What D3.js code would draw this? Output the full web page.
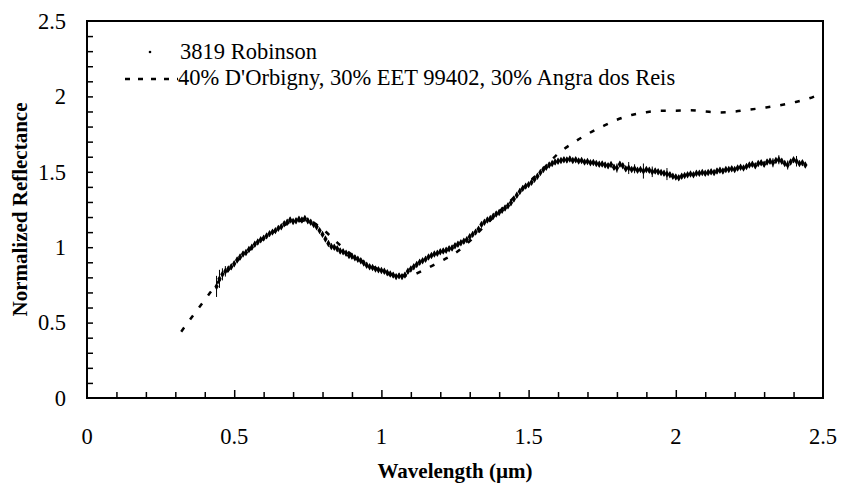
<!DOCTYPE html>
<html>
<head>
<meta charset="utf-8">
<script src="https://cdn.jsdelivr.net/npm/d3@7"></script>
<style>
  body { margin: 0; background: #fff; }
  svg { display: block; }
  text { font-family: "Liberation Serif", "Times New Roman", serif; fill: #000; }
</style>
</head>
<body>
<svg id="chart" width="842" height="485"></svg>
<script>
// 3819 Robinson reflectance, one value every 0.01 um from 0.44 to 2.44
const robinsonStart = 0.44
const robinsonStep = 0.01
const robinsonValues = [
  0.74, 0.79, 0.82, 0.84, 0.855, 0.87, 0.89, 0.915, 0.935, 0.955,
  0.965, 0.985, 1.00, 1.02, 1.035, 1.05, 1.06, 1.075, 1.09, 1.10,
  1.11, 1.125, 1.135, 1.155, 1.165, 1.18, 1.17, 1.175, 1.185, 1.18,
  1.19, 1.175, 1.165, 1.15, 1.135, 1.11, 1.085, 1.055, 1.025, 1.005,
  1.00, 0.99, 0.975, 0.97, 0.96, 0.945, 0.94, 0.93, 0.92, 0.91,
  0.895, 0.88, 0.87, 0.865, 0.855, 0.85, 0.845, 0.84, 0.83, 0.822,
  0.815, 0.805, 0.81, 0.805, 0.815, 0.84, 0.855, 0.87, 0.885, 0.90,
  0.91, 0.92, 0.935, 0.945, 0.955, 0.96, 0.97, 0.975, 0.98, 0.99,
  0.995, 1.01, 1.02, 1.03, 1.04, 1.05, 1.07, 1.085, 1.10, 1.12,
  1.15, 1.165, 1.18, 1.19, 1.205, 1.22, 1.23, 1.245, 1.26, 1.275,
  1.295, 1.32, 1.345, 1.37, 1.39, 1.405, 1.415, 1.43, 1.45, 1.47,
  1.495, 1.515, 1.53, 1.545, 1.555, 1.565, 1.57, 1.575, 1.58, 1.578,
  1.585, 1.575, 1.58, 1.572, 1.575, 1.565, 1.568, 1.56, 1.562, 1.555,
  1.55, 1.552, 1.545, 1.54, 1.548, 1.53, 1.525, 1.55, 1.54, 1.52,
  1.525, 1.515, 1.52, 1.51, 1.515, 1.505, 1.515, 1.51, 1.50, 1.505,
  1.50, 1.495, 1.49, 1.485, 1.48, 1.47, 1.465, 1.46, 1.47, 1.475,
  1.48, 1.485, 1.48, 1.49, 1.49, 1.495, 1.49, 1.495, 1.50, 1.495,
  1.505, 1.51, 1.505, 1.515, 1.515, 1.52, 1.515, 1.525, 1.53, 1.525,
  1.535, 1.545, 1.55, 1.54, 1.555, 1.56, 1.55, 1.565, 1.57, 1.56,
  1.575, 1.58, 1.57, 1.555, 1.545, 1.565, 1.58, 1.57, 1.555, 1.56,
  1.545
]
// larger error bars seen in the picture [wavelength, half length]
const robinsonBigErrors = [
  [0.44, 0.07], [0.45, 0.06], [0.46, 0.04], [0.47, 0.035],
  [1.80, 0.03], [1.84, 0.04], [1.86, 0.03], [1.89, 0.05], [1.92, 0.035],
  [1.97, 0.04], [2.33, 0.03], [2.35, 0.03], [2.38, 0.03], [2.41, 0.035]
]
const robinsonSmallError = 0.018

// model mixture
const modelWavelengths = [
  0.32, 0.35, 0.40, 0.45, 0.50, 0.55, 0.60, 0.65, 0.70, 0.75,
  0.80, 0.85, 0.90, 0.95, 1.00, 1.05, 1.10, 1.15, 1.20, 1.25,
  1.30, 1.35, 1.40, 1.45, 1.50, 1.55, 1.60, 1.65, 1.70, 1.75,
  1.80, 1.85, 1.90, 1.95, 2.00, 2.05, 2.10, 2.15, 2.20, 2.25,
  2.30, 2.35, 2.40, 2.45, 2.49
]
const modelValues = [
  0.44, 0.52, 0.65, 0.78, 0.89, 0.98, 1.06, 1.12, 1.17, 1.175,
  1.12, 1.03, 0.95, 0.89, 0.845, 0.81, 0.815, 0.855, 0.905, 0.96,
  1.04, 1.14, 1.235, 1.33, 1.43, 1.52, 1.62, 1.69, 1.75, 1.80,
  1.845, 1.877, 1.895, 1.905, 1.905, 1.908, 1.90, 1.894, 1.90, 1.912,
  1.925, 1.94, 1.96, 1.985, 2.015
]

const xTicks = [0, 0.5, 1, 1.5, 2, 2.5]
const yTicks = [0, 0.5, 1, 1.5, 2, 2.5]
const legendLabels = ['3819 Robinson', "40% D'Orbigny, 30% EET 99402, 30% Angra dos Reis"]

const box = { left: 87, right: 823, top: 21, bottom: 398 }
const fontSize = 22.5

const svg = d3.select('#chart')

const x = d3.scaleLinear().domain([0, 2.5]).range([box.left, box.right])
const y = d3.scaleLinear().domain([0, 2.5]).range([box.bottom, box.top])

const robinson = robinsonValues.map((v, i) => {
  const w = +(robinsonStart + i * robinsonStep).toFixed(2)
  const big = robinsonBigErrors.find(e => Math.abs(e[0] - w) < 1e-6)
  return { w: w, r: v, e: big ? big[1] : robinsonSmallError }
})
const model = modelWavelengths.map((w, i) => ({ w: w, r: modelValues[i] }))

// minor ticks every 0.1, pointing inward
const minor = d3.range(1, 25).map(i => i / 10)

svg.append('g').attr('transform', `translate(0,${box.bottom})`)
  .call(d3.axisBottom(x).tickValues(minor).tickSize(-6).tickFormat(''))
  .call(g => g.select('.domain').remove())
  .call(g => g.selectAll('line').attr('stroke', '#000').attr('stroke-width', 1.5)
    .attr('y2', d => Math.abs(Math.round(d * 10) % 5) === 0 ? -8 : -6))

svg.append('g').attr('transform', `translate(${box.left},0)`)
  .call(d3.axisLeft(y).tickValues(minor).tickSize(-6).tickFormat(''))
  .call(g => g.select('.domain').remove())
  .call(g => g.selectAll('line').attr('stroke', '#000').attr('stroke-width', 1.5))

// tick labels
svg.append('g').selectAll('text').data(xTicks).join('text')
  .attr('x', d => x(d)).attr('y', 444)
  .attr('text-anchor', 'middle').attr('font-size', fontSize)
  .text(d => d)

svg.append('g').selectAll('text').data(yTicks).join('text')
  .attr('x', 66).attr('y', d => y(d)).attr('dy', '0.35em')
  .attr('text-anchor', 'end').attr('font-size', fontSize)
  .text(d => d)

// plot frame
svg.append('rect')
  .attr('x', box.left).attr('y', box.top)
  .attr('width', box.right - box.left).attr('height', box.bottom - box.top)
  .attr('fill', 'none').attr('stroke', '#000').attr('stroke-width', 2)

// model dashed curve
svg.append('path')
  .datum(model)
  .attr('d', d3.line().x(d => x(d.w)).y(d => y(d.r)).curve(d3.curveMonotoneX))
  .attr('fill', 'none').attr('stroke', '#000')
  .attr('stroke-width', 2.5).attr('stroke-dasharray', '5,10')

// Robinson error bars and points
svg.append('g').selectAll('line').data(robinson).join('line')
  .attr('x1', d => x(d.w)).attr('x2', d => x(d.w))
  .attr('y1', d => y(d.r - d.e)).attr('y2', d => y(d.r + d.e))
  .attr('stroke', '#000').attr('stroke-width', 1)

const diamond = d3.symbol().type(d3.symbolDiamond).size(16)
svg.append('g').selectAll('path').data(robinson).join('path')
  .attr('transform', d => `translate(${x(d.w)},${y(d.r)})`)
  .attr('d', diamond)
  .attr('fill', '#000')

// legend
const legend = svg.append('g')
legend.append('circle').attr('cx', 150).attr('cy', 52).attr('r', 1.3).attr('fill', '#000')
legend.append('text').attr('x', 180).attr('y', 59).attr('font-size', fontSize).text(legendLabels[0])
legend.append('line').attr('x1', 125).attr('x2', 178).attr('y1', 79).attr('y2', 79)
  .attr('stroke', '#000').attr('stroke-width', 2.5).attr('stroke-dasharray', '5,8')
legend.append('text').attr('x', 178).attr('y', 85).attr('font-size', fontSize).text(legendLabels[1])

// axis titles
svg.append('text')
  .attr('x', (box.left + box.right) / 2).attr('y', 478)
  .attr('text-anchor', 'middle').attr('font-size', 21).attr('font-weight', 'bold')
  .text('Wavelength (µm)')

svg.append('text')
  .attr('transform', `translate(27,${(box.top + box.bottom) / 2}) rotate(-90)`)
  .attr('text-anchor', 'middle').attr('font-size', 21).attr('font-weight', 'bold')
  .text('Normalized Reflectance')
</script>
</body>
</html>
